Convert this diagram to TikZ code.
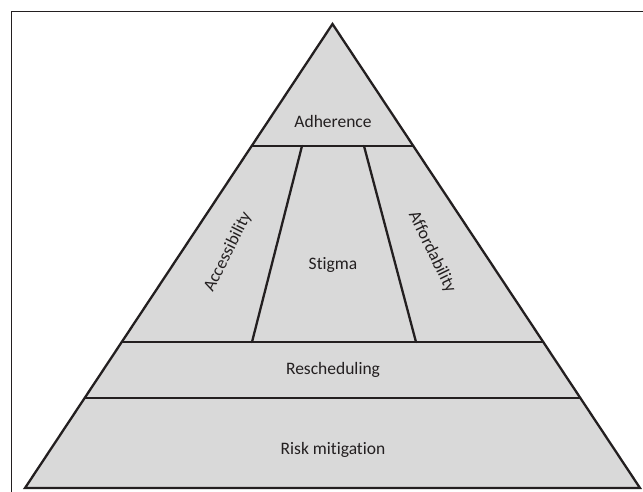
\documentclass[tikz,border=0pt]{standalone}
\usepackage{fontspec}
\setmainfont[Ligatures=NoCommon]{Carlito}
\usetikzlibrary{calc}
\definecolor{pyrfill}{HTML}{D9D9D9}
\definecolor{ink}{HTML}{231F20}
\begin{document}
\begin{tikzpicture}[x=1pt,y=-1pt,
  pyrline/.style={draw=ink,line width=2.3pt,line cap=round,line join=miter},
  lbl/.style={text=ink,font=\fontsize{17.5}{20}\selectfont,inner sep=0pt}]
\useasboundingbox (0,0) rectangle (643,491);
\draw[ink,line width=0.9pt] (11,495) -- (11,11) -- (650,11);
\coordinate (A) at (332.5,24);
\coordinate (BL) at (25,488);
\coordinate (BR) at (640,488);
\fill[pyrfill] (A) -- (BL) -- (BR) -- cycle;
% horizontal dividers
\coordinate (L1) at ($(A)!0.263!(BL)$);
\coordinate (R1) at ($(A)!0.263!(BR)$);
\coordinate (L2) at ($(A)!0.6853!(BL)$);
\coordinate (R2) at ($(A)!0.6853!(BR)$);
\coordinate (L3) at ($(A)!0.806!(BL)$);
\coordinate (R3) at ($(A)!0.806!(BR)$);
\draw[pyrline] (L1) -- (R1);
\draw[pyrline] (L2) -- (R2);
\draw[pyrline] (L3) -- (R3);
% inner slanted lines
\coordinate (IL1) at (302,146);
\coordinate (IL2) at (252,342);
\coordinate (IR1) at (364,146);
\coordinate (IR2) at (416,342);
\draw[pyrline] (IL1) -- (IL2);
\draw[pyrline] (IR1) -- (IR2);
\draw[pyrline] (A) -- (BL) -- (BR) -- cycle;
% labels
\node[lbl] (adh) at (333,121) {Adherence};
\node[lbl,rotate=63.5] (acc) at (228,252) {Accessibility};
\node[lbl] (stig) at (333,265) {Stigma};
\node[lbl,rotate=-64] (aff) at (432,252) {Affordability};
\node[lbl] (resch) at (333,370) {Rescheduling};
\node[lbl] (risk) at (333,450) {Risk mitigation};
\end{tikzpicture}
\end{document}
